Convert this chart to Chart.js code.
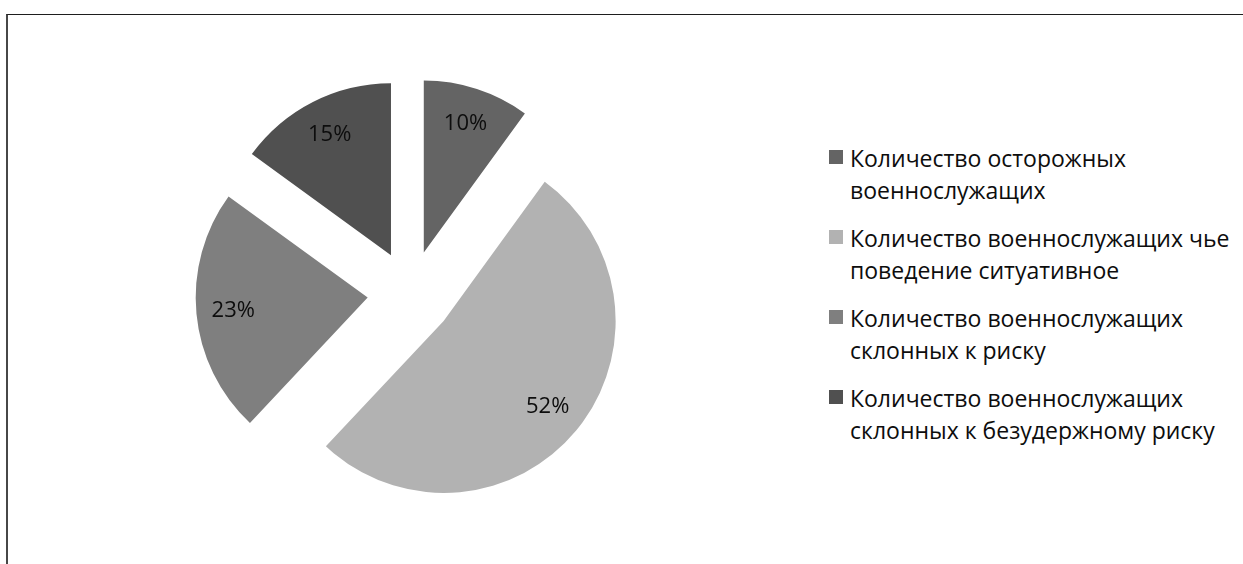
<!DOCTYPE html>
<html>
<head>
<meta charset="utf-8">
<title>Распределение военнослужащих</title>
<script src="https://cdn.jsdelivr.net/npm/chart.js@4"></script>
<style>
  body {
    margin: 0;
    width: 1243px;
    height: 564px;
    background: #fff;
    overflow: hidden;
    position: relative;
    font-family: "Open Sans", "Noto Sans", sans-serif;
    color: #0d0d0d;
  }
  #frame {
    position: absolute;
    left: 6px;
    top: 14px;
    width: 1300px;
    height: 600px;
    border-top: 1px solid #1e1e1e;
    border-left: 2px solid #474747;
  }
  #pieBox {
    position: absolute;
    left: 160px;
    top: 43px;
    width: 501px;
    height: 501px;
  }
  #legend {
    position: absolute;
    left: 829px;
    top: 142px;
  }
  .item {
    display: flex;
    align-items: flex-start;
    margin-bottom: 16px;
  }
  .swatch {
    width: 14px;
    height: 14px;
    margin-top: 8px;
    margin-right: 7px;
    flex: none;
  }
  .text {
    font-size: 23px;
    line-height: 32px;
    white-space: nowrap;
  }
</style>
</head>
<body>
<div id="frame"></div>
<div id="pieBox"><canvas id="pieChart"></canvas></div>
<div id="legend"></div>

<script>
// categories (each split into the lines shown in the legend)
const categories = [
    ['Количество осторожных', 'военнослужащих'],
    ['Количество военнослужащих чье', 'поведение ситуативное'],
    ['Количество военнослужащих', 'склонных к риску'],
    ['Количество военнослужащих', 'склонных к безудержному риску']
];
const shares = [10, 52, 23, 15];
const sliceColors = ['#646464', '#b2b2b2', '#7f7f7f', '#505050'];

const EXPLODE = 43;   // how far every slice is pulled out of the centre, px

// pulls each slice outward along its middle angle
// (the built-in offset also grows the radius of some slices, so it is not used)
const explodeSlices = {
    id: 'explodeSlices',
    beforeDatasetDraw(chart, args) {
        const ctx = chart.ctx;
        args.meta.data.forEach(arc => {
            const mid = (arc.startAngle + arc.endAngle) / 2;
            ctx.save();
            ctx.translate(Math.cos(mid) * EXPLODE, Math.sin(mid) * EXPLODE);
            arc.draw(ctx);
            ctx.restore();
        });
        return false;
    }
};

// writes the percentage inside every slice
const percentLabels = {
    id: 'percentLabels',
    afterDatasetsDraw(chart) {
        const ctx = chart.ctx;
        const meta = chart.getDatasetMeta(0);
        ctx.save();
        ctx.font = '22px "Open Sans", "Noto Sans", sans-serif';
        ctx.fillStyle = '#0d0d0d';
        ctx.textAlign = 'center';
        ctx.textBaseline = 'middle';
        meta.data.forEach((arc, i) => {
            const mid = (arc.startAngle + arc.endAngle) / 2;
            const dist = EXPLODE + arc.outerRadius * 0.785;
            ctx.fillText(shares[i] + '%', arc.x + Math.cos(mid) * dist, arc.y + Math.sin(mid) * dist);
        });
        ctx.restore();
    }
};

const chart = new Chart(document.getElementById('pieChart').getContext('2d'), {
    type: 'pie',
    data: {
        labels: categories,
        datasets: [{
            data: shares,
            backgroundColor: sliceColors,
            borderWidth: 0,
            hoverOffset: 0
        }]
    },
    options: {
        responsive: true,
        maintainAspectRatio: false,
        animation: false,
        radius: 172,
        plugins: {
            legend: { display: false },
            tooltip: { enabled: false }
        }
    },
    plugins: [explodeSlices, percentLabels]
});

// legend on the right, built from the chart's own label items
const legendBox = document.getElementById('legend');
chart.options.plugins.legend.labels.generateLabels(chart).forEach((item, i) => {
    const row = document.createElement('div');
    row.className = 'item';
    const swatch = document.createElement('span');
    swatch.className = 'swatch';
    swatch.style.background = item.fillStyle;
    const text = document.createElement('span');
    text.className = 'text';
    text.innerHTML = categories[i].join('<br>');
    row.appendChild(swatch);
    row.appendChild(text);
    legendBox.appendChild(row);
});
</script>
</body>
</html>
